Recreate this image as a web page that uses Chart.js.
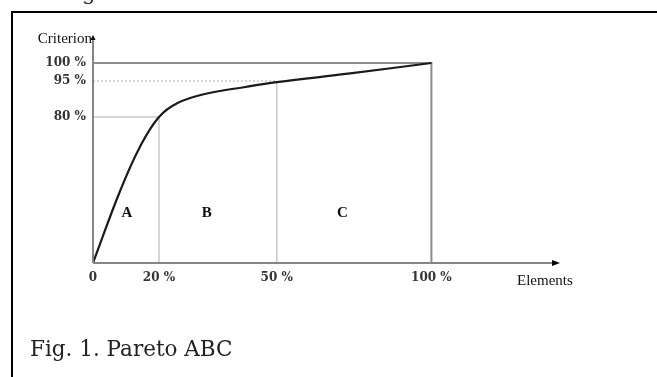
<!DOCTYPE html>
<html lang="en">
<head>
    <meta charset="UTF-8">
    <title>Pareto ABC</title>
    <style>
        html, body { margin: 0; padding: 0; background: #fff; }
        body { width: 657px; height: 377px; position: relative; overflow: hidden; }
        .frame { position: absolute; left: 11px; top: 11px; right: -10px; bottom: -10px;
                 border-left: 2px solid #000; border-top: 2px solid #000; }
        .wrap { position: absolute; left: 0; top: 0; width: 657px; height: 377px; }
        .caption { position: absolute; left: 30px; top: 336px; font-family: 'DejaVu Serif', serif;
                   font-size: 21.5px; color: #222; white-space: nowrap; }
        .cut { position: absolute; left: 82px; top: -19px; font-family: 'DejaVu Serif', serif;
               font-size: 21px; color: #222; }
    </style>
</head>
<body>
    <div class="cut">g</div>
    <div class="frame"></div>
    <div class="wrap"><canvas id="pareto"></canvas></div>
    <div class="caption">Fig. 1. Pareto ABC</div>
    <script src="https://cdn.jsdelivr.net/npm/chart.js"></script>
    <script>
// values are positions along each axis (0..100 = origin..100 % mark), as drawn in the figure
const curveX = [0, 8, 14, 19.5, 25, 33, 45, 54.3, 76, 100];
const curveY = [0, 36, 58.5, 73, 80, 84.5, 88, 90.4, 94.8, 100];

const xTickValues = [0, 19.5, 54.3, 100];
const xTickLabels = ['0', '20 %', '50 %', '100 %'];
const yTickValues = [73, 91, 100];
const yTickLabels = ['80 %', '95 %', '100 %'];

const zoneNames = ['A', 'B', 'C'];
const zoneLabelX = [10, 33.6, 73.7];
const zoneLabelY = 25;

// guide lines: horizontal from the y axis to the break, then down to the x axis
const guideColors = ['#c8c8c8', '#c8c8c8', '#8c8c8c'];
const guideWidths = [1.5, 1.5, 2];
const guideDashes = [[], [2, 2], []];

const guides = xTickValues.slice(1).map((xb, i) => ({
    label: 'guide ' + yTickLabels[i],
    data: [{x: 0, y: yTickValues[i]}, {x: xb, y: yTickValues[i]}, {x: xb, y: 0}],
    borderColor: guideColors[i],
    borderWidth: guideWidths[i],
    pointRadius: 0,
    tension: 0,
    order: 2,
    segment: {
        borderDash: c => c.p0DataIndex === 0 ? guideDashes[i] : [],
        borderColor: c => (i === 1 && c.p0DataIndex === 1) ? '#c8c8c8' : guideColors[i]
    }
}));

const axesPlugin = {
    id: 'axes',
    afterDatasetsDraw(chart) {
        const {ctx, chartArea: a, scales: {x, y}} = chart;
        const ox = x.getPixelForValue(0), oy = y.getPixelForValue(0);
        ctx.save();
        ctx.strokeStyle = '#858585';
        ctx.lineWidth = 2;
        ctx.beginPath();
        ctx.moveTo(ox, oy); ctx.lineTo(a.right - 6, oy);
        ctx.moveTo(ox, oy); ctx.lineTo(ox, a.top + 4);
        ctx.stroke();
        ctx.fillStyle = '#000';
        ctx.beginPath();
        ctx.moveTo(a.right, oy); ctx.lineTo(a.right - 8, oy - 3); ctx.lineTo(a.right - 8, oy + 3);
        ctx.closePath(); ctx.fill();
        ctx.beginPath();
        ctx.moveTo(ox, a.top); ctx.lineTo(ox - 2.5, a.top + 5); ctx.lineTo(ox + 2.5, a.top + 5);
        ctx.closePath(); ctx.fill();

        ctx.fillStyle = '#111';
        ctx.font = '15px "Liberation Serif", serif';
        ctx.textBaseline = 'middle';
        ctx.textAlign = 'right';
        ctx.fillText('Criterion', ox - 1, a.top + 4);
        ctx.textAlign = 'left';
        ctx.fillText('Elements', a.right - 43, oy + 18);

        ctx.font = 'bold 15px "Liberation Serif", serif';
        ctx.textAlign = 'center';
        zoneNames.forEach((n, i) => {
            ctx.fillText(n, x.getPixelForValue(zoneLabelX[i]), y.getPixelForValue(zoneLabelY));
        });
        ctx.restore();
    }
};

const tickFont = {family: 'DejaVu Serif', weight: 'bold', size: 12};

new Chart(document.getElementById('pareto'), {
    type: 'line',
    data: {
        datasets: [{
            label: 'Pareto curve',
            data: curveX.map((v, i) => ({x: v, y: curveY[i]})),
            borderColor: '#1a1a1a',
            borderWidth: 2.2,
            pointRadius: 0,
            tension: 0.4,
            order: 1
        }, ...guides]
    },
    options: {
        responsive: true,
        maintainAspectRatio: false,
        animation: false,
        layout: { padding: { top: 35, right: 97, left: 0, bottom: 0 } },
        plugins: { legend: { display: false }, tooltip: { enabled: false } },
        scales: {
            x: {
                type: 'linear', min: 0, max: 138,
                afterBuildTicks: s => { s.ticks = xTickValues.map(v => ({value: v})); },
                afterFit: s => { s.height = 114; },
                grid: { display: false, drawTicks: false },
                border: { display: false },
                ticks: { callback: (v, i) => xTickLabels[i], font: tickFont, color: '#3a3232', padding: 8, maxRotation: 0 }
            },
            y: {
                type: 'linear', min: 0, max: 114,
                afterBuildTicks: s => { s.ticks = yTickValues.map(v => ({value: v})); },
                afterFit: s => { s.width = 93; },
                grid: { display: false, drawTicks: false },
                border: { display: false },
                ticks: { callback: (v, i) => yTickLabels[i], font: tickFont, color: '#3a3232', padding: 7 }
            }
        }
    },
    plugins: [axesPlugin]
});
    </script>
</body>
</html>
